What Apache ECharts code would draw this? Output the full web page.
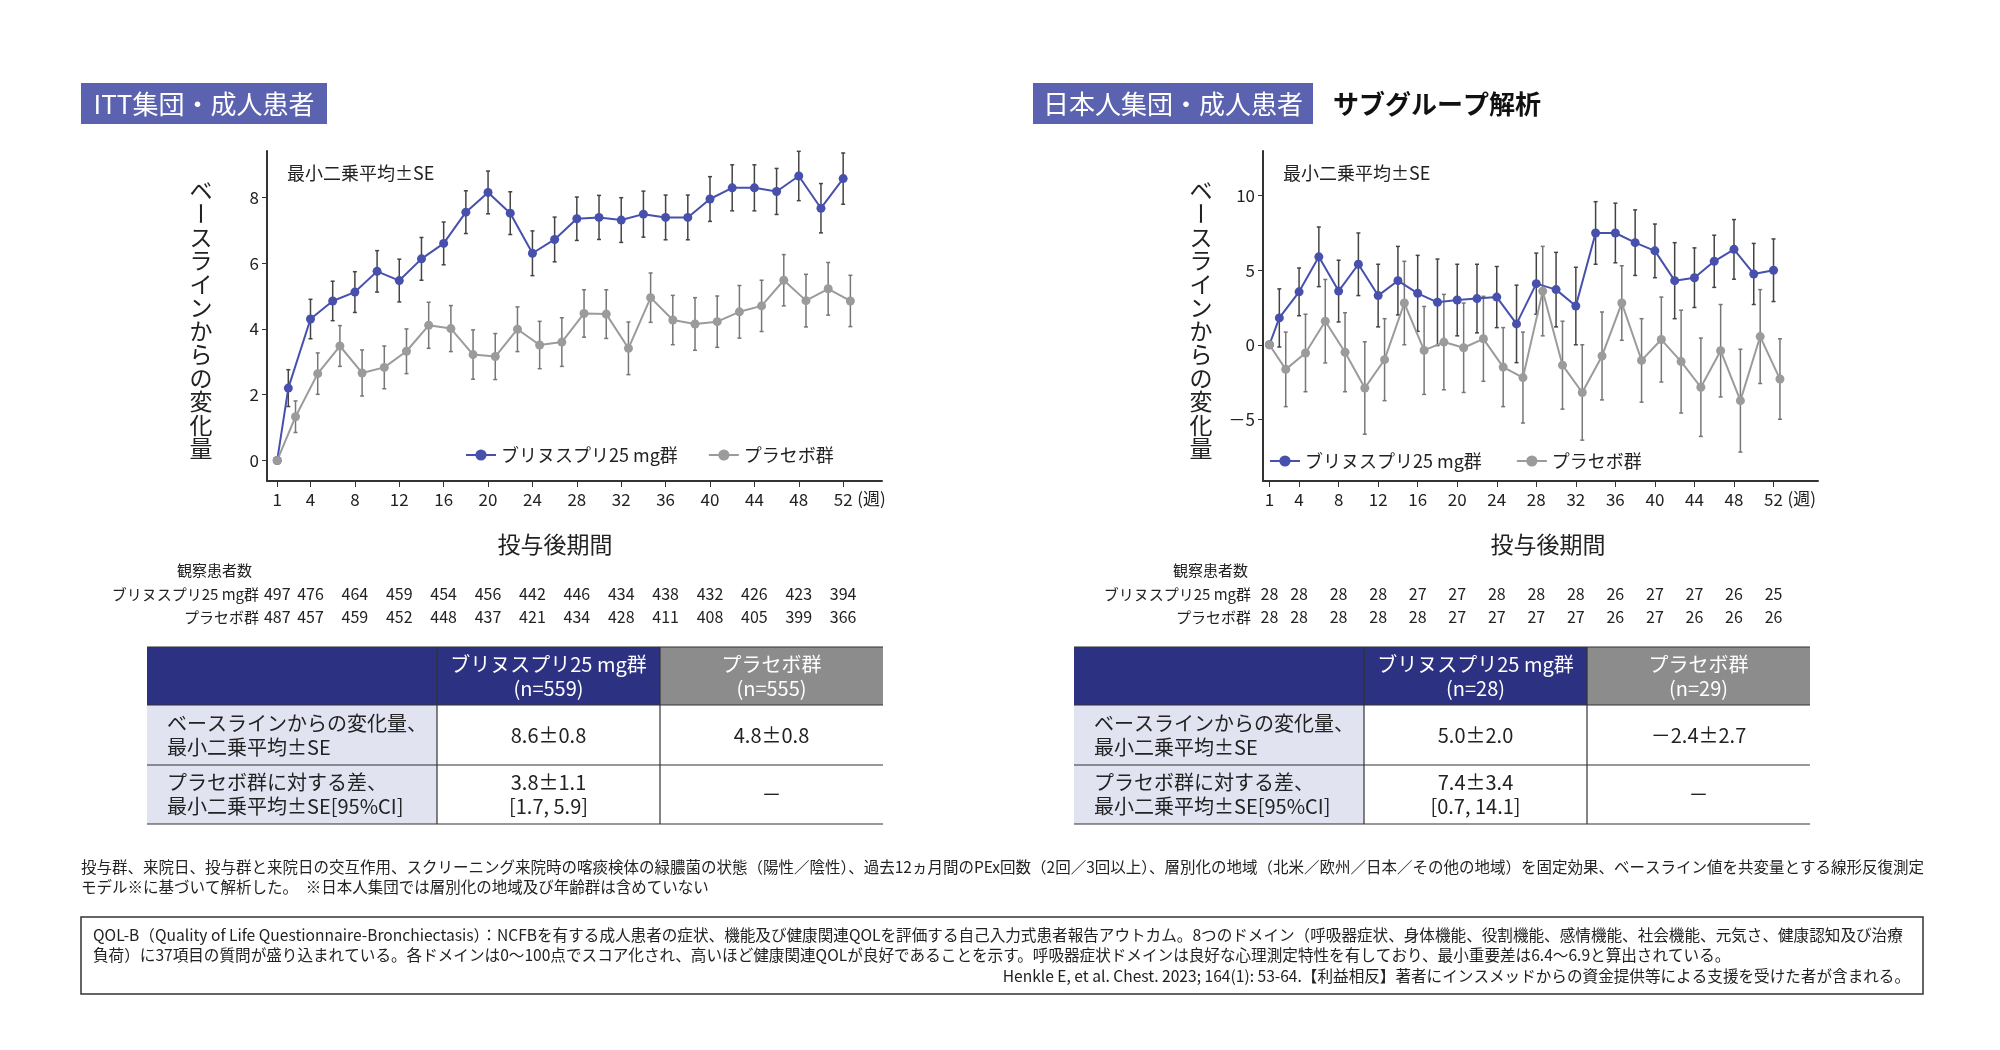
<!DOCTYPE html>
<html><head><meta charset="utf-8">
<script src="https://cdn.jsdelivr.net/npm/echarts@6/dist/echarts.min.js"></script>
<style>html,body{margin:0;background:#fff}#c{width:2000px;height:1050px}</style>
</head><body><div id="c"></div>
<script>
const weeks=[1,2,4,6,8,10,12,14,16,18,20,22,24,26,28,30,32,34,36,38,40,42,44,46,48,50,52];
const tickWeeks=[1,4,8,12,16,20,24,28,32,36,40,44,48,52];
// ITT
const ittDrug=[0,2.2,4.3,4.85,5.12,5.75,5.47,6.13,6.6,7.55,8.15,7.52,6.3,6.72,7.35,7.39,7.31,7.49,7.39,7.39,7.95,8.29,8.29,8.18,8.65,7.67,8.57];
const ittDrugSE=[0,0.56,0.6,0.6,0.62,0.63,0.65,0.65,0.65,0.65,0.65,0.65,0.68,0.68,0.66,0.67,0.68,0.7,0.68,0.68,0.68,0.7,0.7,0.7,0.75,0.75,0.78];
const ittPbo=[0,1.33,2.64,3.48,2.66,2.83,3.32,4.11,4.01,3.22,3.16,3.99,3.51,3.6,4.47,4.45,3.41,4.95,4.27,4.15,4.22,4.52,4.7,5.48,4.86,5.22,4.85];
const ittPboSE=[0,0.48,0.63,0.62,0.7,0.65,0.68,0.7,0.7,0.75,0.7,0.68,0.72,0.74,0.72,0.74,0.8,0.75,0.75,0.8,0.78,0.8,0.78,0.78,0.8,0.8,0.78];
// Japanese
const jpDrug=[0,1.8,3.55,5.9,3.6,5.4,3.3,4.3,3.45,2.85,3.0,3.1,3.2,1.4,4.1,3.7,2.6,7.5,7.5,6.85,6.3,4.3,4.5,5.6,6.4,4.75,5.0];
const jpDrugSE=[0,1.95,1.6,2.0,2.07,2.1,2.1,2.3,2.55,2.9,2.4,2.3,2.05,2.6,2.05,2.5,2.6,2.1,2.0,2.2,1.8,2.55,2.0,1.75,2.0,2.05,2.1];
const jpPbo=[0,-1.65,-0.55,1.58,-0.5,-2.9,-1.0,2.8,-0.38,0.18,-0.2,0.4,-1.5,-2.2,3.6,-1.37,-3.2,-0.75,2.8,-1.05,0.35,-1.13,-2.85,-0.4,-3.75,0.55,-2.3];
const jpPboSE=[0,2.5,2.6,2.8,2.65,3.1,2.75,2.8,2.95,3.2,3.0,2.85,2.65,3.05,3.0,2.95,3.2,2.95,2.5,2.8,2.85,3.45,3.3,3.1,3.45,3.15,2.7];
// observed patients
const ittNDrug=[497,476,464,459,454,456,442,446,434,438,432,426,423,394];
const ittNPbo=[487,457,459,452,448,437,421,434,428,411,408,405,399,366];
const jpNDrug=[28,28,28,28,27,27,28,28,28,26,27,27,26,25];
const jpNPbo=[28,28,28,28,28,27,27,27,27,26,27,26,26,26];
// tables
const tblHead=['ブリヌスプリ25 mg群','プラセボ群'];
const tblRowLabels=[['ベースラインからの変化量、','最小二乗平均±SE'],['プラセボ群に対する差、','最小二乗平均±SE[95%CI]']];
const ittN=['(n=559)','(n=555)'];
const jpN=['(n=28)','(n=29)'];
const ittCells=[['8.6±0.8','4.8±0.8'],['3.8±1.1\n[1.7, 5.9]','－']];
const jpCells=[['5.0±2.0','－2.4±2.7'],['7.4±3.4\n[0.7, 14.1]','－']];

const BLUE='#4750ad', GREY='#9b9b9b', DODGE=0.65;
const FONT='"Noto Sans CJK JP","Noto Sans",sans-serif';
const pboX=w=>w===1?1:w+DODGE;

function lineSeries(name,xi,vals,color,xf){
  return {name,type:'line',xAxisIndex:xi,yAxisIndex:xi,data:weeks.map((w,i)=>[xf(w),vals[i]]),
    symbol:'circle',symbolSize:9,itemStyle:{color},lineStyle:{color,width:2},z:3};
}
function errSeries(xi,vals,se,color,xf){
  return {type:'custom',xAxisIndex:xi,yAxisIndex:xi,z:2,silent:true,
    data:weeks.map((w,i)=>[xf(w),vals[i]-se[i],vals[i]+se[i]]).filter((d,i)=>se[i]>0),
    renderItem:(p,api)=>{const lo=api.coord([api.value(0),api.value(1)]),hi=api.coord([api.value(0),api.value(2)]);
      const st={stroke:color,lineWidth:1.5};
      return {type:'group',children:[
        {type:'line',shape:{x1:lo[0],y1:lo[1],x2:hi[0],y2:hi[1]},style:st},
        {type:'line',shape:{x1:lo[0]-2,y1:lo[1],x2:lo[0]+2,y2:lo[1]},style:st},
        {type:'line',shape:{x1:hi[0]-2,y1:hi[1],x2:hi[0]+2,y2:hi[1]},style:st}]};}};
}
function xAx(gi,min,max){return {type:'value',gridIndex:gi,min,max,
  axisLine:{onZero:false,lineStyle:{color:'#333',width:2}},splitLine:{show:false},
  axisTick:{customValues:tickWeeks,length:6,lineStyle:{color:'#333'}},
  axisLabel:{customValues:tickWeeks,color:'#222',fontSize:17,fontFamily:FONT,margin:10}};}
function yAx(gi,min,max,vals){return {type:'value',gridIndex:gi,min,max,
  axisLine:{show:true,onZero:false,lineStyle:{color:'#333',width:2}},splitLine:{show:false},
  axisTick:{show:true,customValues:vals,length:5,lineStyle:{color:'#333'}},
  axisLabel:{customValues:vals,color:'#222',fontSize:17,fontFamily:FONT,margin:8,formatter:v=>v<0?'－'+(-v):String(v)}};}

const chart=echarts.init(document.getElementById('c'));
chart.setOption({animation:false,
  grid:[{left:267,top:151,width:615,height:330},{left:1263,top:151,width:555,height:330}],
  xAxis:[xAx(0,0.08,55.5),xAx(1,0.35,56.5)],
  yAxis:[yAx(0,-0.625,9.41,[0,2,4,6,8]),yAx(1,-9.14,13.0,[-5,0,5,10])],
  legend:[{data:['ブリヌスプリ25 mg群','プラセボ群'],left:460,top:441,itemWidth:30,itemGap:30,textStyle:{fontSize:18,fontFamily:FONT,color:'#222'}},
    {id:'l2',data:['ブリヌスプリ25 mg群 ','プラセボ群 '],left:1264,top:447,itemWidth:30,itemGap:30,textStyle:{fontSize:18,fontFamily:FONT,color:'#222'}}],
  series:[errSeries(0,ittDrug,ittDrugSE,'#444',w=>w),errSeries(0,ittPbo,ittPboSE,'#777',pboX),
    lineSeries('ブリヌスプリ25 mg群',0,ittDrug,BLUE,w=>w),lineSeries('プラセボ群',0,ittPbo,GREY,pboX),
    errSeries(1,jpDrug,jpDrugSE,'#444',w=>w),errSeries(1,jpPbo,jpPboSE,'#777',pboX),
    lineSeries('ブリヌスプリ25 mg群 ',1,jpDrug,BLUE,w=>w),lineSeries('プラセボ群 ',1,jpPbo,GREY,pboX)]
});

const G=[];
const T=(x,y,text,o={})=>G.push({type:'text',x,y,silent:true,style:Object.assign({text,fill:'#222',font:`${o.bold?'bold ':''}${o.fs||18}px ${FONT}`,textAlign:o.al||'left',textVerticalAlign:o.va||'middle'},o.st||{}),rotation:o.rot||0});
const R=(x,y,w,h,fill,o={})=>G.push({type:'rect',silent:true,shape:{x,y,width:w,height:h},style:Object.assign({fill,stroke:o.stroke||null,lineWidth:o.lw||0})});
R(81,83,246,41,'#5b63b0'); T(204,104,'ITT集団・成人患者',{fs:26,al:'center',st:{fill:'#fff'}});
R(1033,83,280,41,'#5b63b0'); T(1173,104,'日本人集団・成人患者',{fs:26,al:'center',st:{fill:'#fff'}});
T(1333,104,'サブグループ解析',{fs:26,bold:true,st:{fill:'#111'}});
function panel(gi,yTitleX,xTitleX,nDrug,nPbo,labelRight,obsX,tblX,nTxt,cells){
  const gs=gi===0?287:1283;
  T(gs,173,'最小二乗平均±SE',{fs:18});
  const chars='ベースラインからの変化量'.split('');
  chars.forEach((c,i)=>{const y=190+i*23.5;
    if(c==='ー') G.push({type:'text',x:yTitleX,y,rotation:-Math.PI/2,silent:true,style:{text:c,font:`23px ${FONT}`,fill:'#222',textAlign:'center',textVerticalAlign:'middle'}});
    else T(yTitleX,y,c,{fs:23,al:'center'});});
  const end=chart.convertToPixel({xAxisIndex:gi},52);
  T(end+14,499,'(週)',{fs:17});
  T(xTitleX,544,'投与後期間',{fs:23,al:'center'});
  T(obsX,570,'観察患者数',{fs:15});
  T(labelRight,594,'ブリヌスプリ25 mg群',{fs:15,al:'right'});
  T(labelRight,617,'プラセボ群',{fs:15,al:'right'});
  tickWeeks.forEach((w,i)=>{const x=chart.convertToPixel({xAxisIndex:gi},w);
    T(x,594,String(nDrug[i]),{fs:16,al:'center'});T(x,617,String(nPbo[i]),{fs:16,al:'center'});});
  const c0=tblX,c1=tblX+290,c2=tblX+513,c3=tblX+736,y0=647,y1=705,y2=765,y3=824;
  R(c0,y0,c2-c0,y1-y0,'#2c3182'); R(c2,y0,c3-c2,y1-y0,'#8c8c8c');
  R(c0,y1,c1-c0,y3-y1,'#e1e3f1');
  [[c1,y0,c1,y3],[c2,y0,c2,y3]].forEach(s=>G.push({type:'line',silent:true,shape:{x1:s[0],y1:s[1],x2:s[2],y2:s[3]},style:{stroke:'#333',lineWidth:1.2}}));
  [y0,y1,y2,y3].forEach(y=>G.push({type:'line',silent:true,shape:{x1:c0,y1:y,x2:c3,y2:y},style:{stroke:'#333',lineWidth:1.2}}));
  T((c1+c2)/2,(y0+y1)/2,tblHead[0]+'\n'+nTxt[0],{fs:20,al:'center',st:{fill:'#fff',lineHeight:24}});
  T((c2+c3)/2,(y0+y1)/2,tblHead[1]+'\n'+nTxt[1],{fs:20,al:'center',st:{fill:'#fff',lineHeight:24}});
  [[y1,y2],[y2,y3]].forEach((r,i)=>{const ym=(r[0]+r[1])/2;
    T(c0+20,ym,tblRowLabels[i].join('\n'),{fs:20,st:{lineHeight:24}});
    T((c1+c2)/2,ym,cells[i][0],{fs:20,al:'center',st:{lineHeight:24}});
    T((c2+c3)/2,ym,cells[i][1],{fs:20,al:'center',st:{lineHeight:24}});});
}
panel(0,201,555,ittNDrug,ittNPbo,259,177,147,ittN,ittCells);
panel(1,1201,1548,jpNDrug,jpNPbo,1251,1173,1074,jpN,jpCells);
T(81,867,'投与群、来院日、投与群と来院日の交互作用、スクリーニング来院時の喀痰検体の緑膿菌の状態（陽性／陰性）、過去12ヵ月間のPEx回数（2回／3回以上）、層別化の地域（北米／欧州／日本／その他の地域）を固定効果、ベースライン値を共変量とする線形反復測定',{fs:15.5});
T(81,887,'モデル※に基づいて解析した。　※日本人集団では層別化の地域及び年齢群は含めていない',{fs:15.5});
R(81,917,1842,77,'none',{stroke:'#333',lw:1.5});
T(93,935,'QOL-B（Quality of Life Questionnaire-Bronchiectasis）：NCFBを有する成人患者の症状、機能及び健康関連QOLを評価する自己入力式患者報告アウトカム。8つのドメイン（呼吸器症状、身体機能、役割機能、感情機能、社会機能、元気さ、健康認知及び治療',{fs:15.6});
T(93,955,'負荷）に37項目の質問が盛り込まれている。各ドメインは0～100点でスコア化され、高いほど健康関連QOLが良好であることを示す。呼吸器症状ドメインは良好な心理測定特性を有しており、最小重要差は6.4～6.9と算出されている。',{fs:15.6});
T(1910,976,'Henkle E, et al. Chest. 2023; 164(1): 53-64.【利益相反】著者にインスメッドからの資金提供等による支援を受けた者が含まれる。',{fs:15.6,al:'right'});
chart.setOption({graphic:G});
</script></body></html>
